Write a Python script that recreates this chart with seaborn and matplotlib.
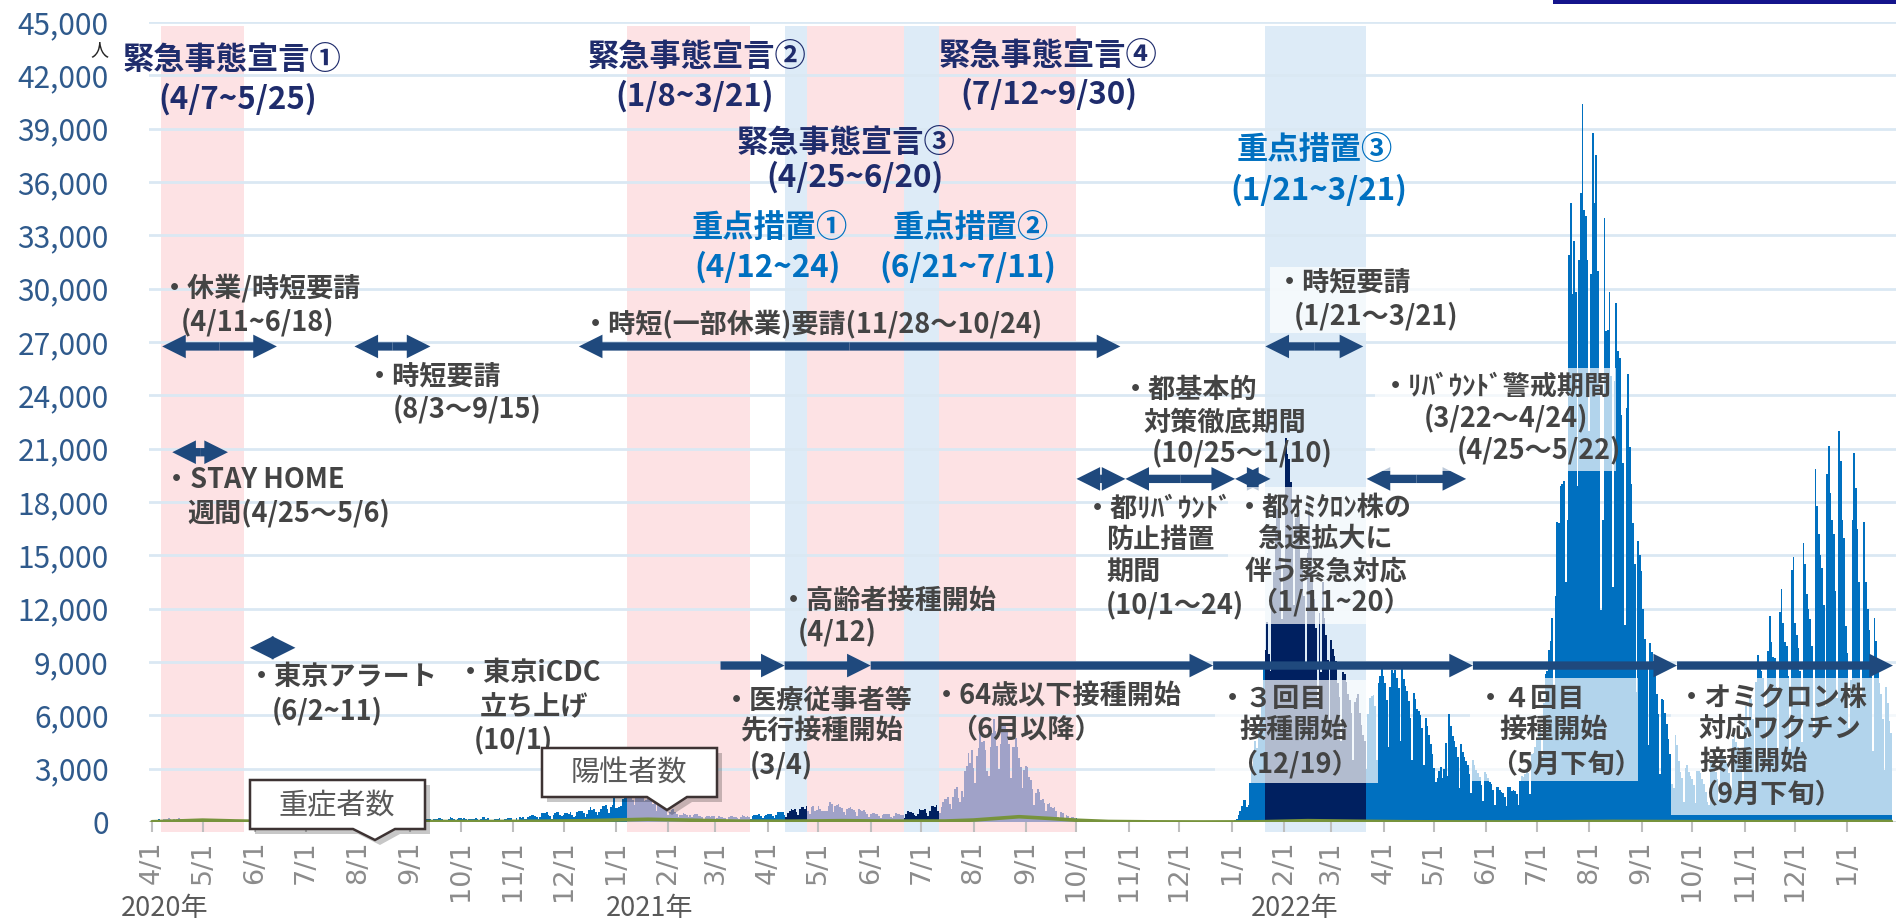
import matplotlib
matplotlib.use('Agg')
import matplotlib.pyplot as plt
from matplotlib.patches import Polygon, Rectangle, FancyArrowPatch, ArrowStyle
import numpy as np
import pandas as pd
import seaborn as sns

# 東京都 新規陽性者数（日別）: 月ごとのリスト
cases_2020 = [
    [66, 97, 89, 116, 143, 83, 79, 144, 181, 189, 197, 166, 91, 161, 127, 149, 206, 181, 107, 102,
     123, 132, 134, 161, 103, 72, 39, 112, 47, 46],
    [165, 160, 91, 87, 58, 38, 23, 39, 36, 22, 15, 28, 10, 30, 9, 14, 5, 10, 5, 5,
     11, 3, 2, 14, 8, 21, 11, 15, 22, 14, 5],
    [13, 34, 12, 28, 20, 26, 14, 13, 12, 18, 22, 25, 24, 47, 48, 27, 16, 41, 35, 39,
     35, 29, 31, 55, 48, 54, 57, 60, 58, 54],
    [67, 107, 124, 131, 111, 102, 106, 75, 224, 243, 206, 206, 119, 143, 165, 286, 293, 290, 188, 168,
     237, 238, 366, 260, 295, 239, 131, 266, 250, 367, 463],
    [472, 292, 258, 309, 263, 360, 462, 429, 331, 197, 188, 222, 206, 389, 385, 260, 161, 207, 186, 339,
     258, 256, 212, 95, 182, 236, 250, 226, 148, 201, 100],
    [170, 141, 211, 226, 181, 116, 77, 170, 149, 276, 187, 181, 146, 80, 163, 163, 173, 220, 218, 166,
     98, 88, 59, 195, 270, 214, 148, 78, 194, 218],
    [235, 196, 207, 143, 59, 178, 170, 170, 187, 249, 146, 78, 166, 284, 284, 185, 235, 132, 78, 139,
     150, 185, 186, 215, 124, 102, 158, 171, 221, 215, 209],
    [116, 87, 209, 122, 269, 242, 294, 189, 157, 293, 317, 393, 374, 352, 255, 180, 298, 493, 534, 522,
     539, 391, 314, 186, 401, 481, 570, 561, 418, 311],
    [372, 500, 533, 449, 584, 399, 299, 352, 572, 602, 595, 621, 480, 305, 460, 678, 822, 664, 736, 556,
     392, 563, 748, 888, 884, 949, 708, 481, 856, 944, 1337],
]
cases_2021 = [
    [783, 814, 816, 884, 1278, 1591, 2447, 2392, 2268, 1494, 1219, 970, 1433, 1502, 2001, 1809, 1592, 1204, 1240, 1274,
     1471, 1175, 986, 1056, 618, 1026, 1064, 1065, 868, 769, 633],
    [393, 556, 676, 734, 577, 429, 276, 412, 412, 491, 434, 369, 307, 371, 266, 378, 445, 445, 353, 327,
     272, 178, 275, 340, 340, 270, 337, 329],
    [121, 232, 316, 279, 301, 237, 237, 116, 290, 340, 335, 304, 289, 239, 175, 300, 409, 323, 303, 342,
     256, 187, 337, 420, 394, 376, 430, 313, 234, 364, 414],
    [475, 446, 440, 355, 249, 399, 555, 545, 537, 570, 421, 306, 510, 591, 729, 667, 759, 543, 405, 711,
     843, 861, 759, 876, 635, 425, 828, 925, 629, 698],
    [879, 708, 609, 621, 591, 591, 907, 1121, 1032, 573, 925, 969, 1010, 854, 772, 543, 419, 732, 766, 843,
     711, 654, 535, 340, 743, 684, 614, 684, 539, 473, 258],
    [471, 487, 508, 472, 436, 351, 235, 369, 440, 439, 435, 467, 304, 209, 337, 501, 452, 453, 388, 376,
     236, 435, 619, 570, 562, 534, 386, 317, 476, 714],
    [673, 660, 716, 518, 342, 593, 920, 896, 822, 950, 614, 502, 830, 1149, 1308, 1271, 1410, 1008, 727, 1387,
     1832, 1979, 1359, 1128, 1763, 1429, 2848, 3177, 3865, 3300, 4058],
    [3058, 2195, 3709, 4166, 5042, 4515, 4566, 4066, 2884, 2612, 4200, 4989, 5773, 5094, 4295, 2962, 4377, 5386, 5534, 5405,
     5074, 4392, 2447, 4220, 4228, 4704, 4227, 3581, 3081, 1915, 2909],
    [3168, 3099, 2539, 2362, 1853, 968, 1629, 1834, 1675, 1242, 1273, 1067, 611, 1004, 1052, 831, 782, 862, 616, 302,
     253, 537, 531, 235, 382, 331, 154, 266, 267, 218],
    [200, 196, 161, 87, 149, 143, 138, 82, 66, 60, 49, 41, 77, 62, 72, 66, 40, 29, 36, 41,
     36, 26, 32, 19, 17, 36, 29, 21, 18, 22, 9],
    [9, 18, 29, 21, 21, 24, 13, 9, 20, 24, 22, 21, 24, 11, 12, 19, 21, 24, 23, 16,
     21, 8, 16, 22, 17, 31, 27, 20, 12, 9],
    [15, 16, 15, 19, 17, 8, 16, 21, 22, 13, 20, 14, 9, 21, 21, 23, 30, 25, 26, 11,
     36, 37, 41, 44, 48, 33, 40, 60, 76, 64, 78],
]
cases_2022 = [
    [79, 84, 103, 151, 390, 641, 922, 1224, 1223, 871, 962, 2198, 3124, 4051, 4561, 4172, 5185, 5526, 7377, 8638,
     9699, 11227, 9468, 8503, 12813, 14086, 16538, 17631, 17433, 15895, 11443],
    [14445, 21576, 20679, 20401, 19126, 17526, 12219, 17113, 18287, 17526, 14715, 14528, 12695, 8837, 15151, 17864, 15525, 14111, 12538, 10910,
     6965, 11759, 8424, 13518, 11449, 10497, 9126, 5582],
    [10245, 9735, 9315, 9072, 7846, 7040, 4568, 8424, 8317, 7876, 7225, 6850, 6142, 3471, 6747, 6951, 7179, 6110, 5451, 4920,
     4572, 2971, 6099, 6982, 7080, 7159, 6520, 3511, 7845, 8226, 8777],
    [8227, 7795, 6889, 4225, 7605, 8569, 8356, 8526, 8112, 7540, 4541, 8678, 8060, 7674, 7350, 6814, 5835, 3500, 7276, 6906,
     6357, 6240, 6004, 5282, 3219, 5844, 5396, 4905, 4384, 3845],
    [3055, 2277, 2479, 2875, 3067, 2451, 2964, 4463, 2576, 6087, 5398, 4828, 4536, 4240, 3649, 1922, 4398, 3929, 3653, 3444,
     3189, 2701, 1605, 3488, 3193, 2928, 2755, 2547, 2066, 1157, 2840],
    [2715, 2488, 2249, 2131, 1815, 934, 1980, 1963, 1774, 1696, 1628, 1427, 896, 1956, 1977, 1769, 1797, 1729, 1573, 960,
     2306, 2570, 2527, 2681, 2819, 2730, 1588, 3803, 3867, 4212],
    [4600, 5100, 5200, 3700, 6700, 8300, 8500, 9700, 10200, 11500, 7000, 12700, 16900, 16800, 18900, 19000, 19200, 13500, 17000, 31900,
     34800, 29700, 32700, 29800, 18900, 31600, 35400, 40400, 34400, 34100, 31600],
    [22000, 30800, 38750, 34800, 37500, 31000, 24000, 11900, 17000, 34000, 27600, 27700, 29800, 25100, 13200, 24800, 29200, 26500, 26100, 22900,
     20200, 11100, 23300, 25200, 21100, 19000, 16800, 14500, 7300, 15800, 15000],
    [14130, 11954, 10281, 8856, 4348, 10085, 9588, 9057, 8215, 7197, 6064, 2719, 6904, 6887, 6119, 5487, 4658, 3851, 2165, 1914,
     4905, 4307, 3417, 2813, 2475, 1099, 3012, 3193, 2810, 2578],
    [2425, 2097, 1046, 2885, 2894, 2769, 2432, 2160, 1678, 1122, 968, 3496, 3416, 3093, 2803, 2401, 1180, 3776, 3942, 3645,
     3394, 3288, 2742, 1435, 4681, 4881, 4493, 4197, 4026, 3347, 1837],
    [5900, 6500, 4700, 7000, 6900, 5800, 2900, 7900, 9400, 8900, 8500, 8100, 6500, 3600, 9600, 11600, 10100, 9300, 9200, 7600,
     3700, 11800, 13100, 11200, 10100, 9900, 8200, 4100, 14200, 14900],
    [11200, 10500, 9800, 8500, 4500, 15700, 14500, 12800, 12000, 11400, 9900, 5100, 19850, 17800, 16200, 15000, 14300, 12200, 6500, 19600,
     21150, 18500, 17000, 16200, 13000, 7000, 22000, 20300, 17000, 16000, 11000],
]
cases_2023 = [
    [9500, 5300, 8000, 17000, 20750, 18800, 16500, 13500, 7000, 9000, 16900, 13500, 12000, 10800, 8500, 4000, 11500, 10200, 8900, 7800,
     7200, 5800, 2900, 7600, 6700, 5700, 5000],
]

# 重症者数
severe_dates = ['2020-04-01', '2020-04-20', '2020-05-01', '2020-05-20', '2020-06-15', '2020-07-15', '2020-08-15',
                '2020-09-15', '2020-10-15', '2020-11-15', '2020-12-15', '2021-01-20', '2021-02-15', '2021-03-15',
                '2021-04-15', '2021-05-15', '2021-06-15', '2021-07-15', '2021-08-01', '2021-08-28', '2021-09-15',
                '2021-10-01', '2021-10-20', '2021-11-15', '2021-12-15', '2022-01-15', '2022-02-15', '2022-03-15',
                '2022-04-15', '2022-05-15', '2022-06-15', '2022-07-15', '2022-08-15', '2022-09-15', '2022-10-15',
                '2022-11-15', '2022-12-15', '2023-01-15', '2023-01-27']
severe_values = [15, 70, 105, 60, 20, 10, 30, 28, 25, 40, 75, 155, 100, 45, 45, 75, 50, 55, 110, 297, 200,
                 100, 30, 8, 2, 8, 75, 45, 15, 6, 4, 15, 35, 25, 12, 18, 30, 40, 35]

# 緊急事態宣言 / 重点措置 期間
decl_periods = [('2020-04-07', '2020-05-25'), ('2021-01-08', '2021-03-21'),
                ('2021-04-25', '2021-06-20'), ('2021-07-12', '2021-09-30')]
prio_periods = [('2021-04-12', '2021-04-24'), ('2021-06-21', '2021-07-11'), ('2022-01-21', '2022-03-21')]

# 要請等の矢印（開始, 終了）
upper_arrows = [('2020-04-07', '2020-06-14'), ('2020-07-30', '2020-09-13'), ('2020-12-10', '2021-10-27'),
                ('2022-01-21', '2022-03-20')]
stay_home = ('2020-04-13', '2020-05-16')
tokyo_alert = ('2020-05-29', '2020-06-25')
lower_arrows = [('2021-10-01', '2021-10-30'), ('2021-10-30', '2022-01-03'), ('2022-01-03', '2022-01-24'),
                ('2022-03-22', '2022-05-20')]
vaccine_marks = ['2021-03-04', '2021-04-11', '2021-06-01', '2021-12-21', '2022-05-24', '2022-09-22', '2023-01-28']

sns.set_theme(style='white')
plt.rcParams['font.family'] = ['Noto Sans CJK JP', 'DejaVu Sans']
plt.rcParams['axes.unicode_minus'] = False

W, H = 1896, 923
fig = plt.figure(figsize=(W / 100, H / 100), dpi=100)
ax = fig.add_axes([149 / W, 1 - 822 / H, 1 - 149 / W, (822 - 22) / H])

START = pd.Timestamp('2020-04-01')


def day(s):
    return (pd.Timestamp(s) - START).days


rows = []
for first, months in [('2020-04-01', cases_2020), ('2021-01-01', cases_2021),
                      ('2022-01-01', cases_2022), ('2023-01-01', cases_2023)]:
    for k, vals in enumerate(months):
        ms = pd.Timestamp(first) + pd.DateOffset(months=k)
        for i, v in enumerate(vals[:ms.days_in_month]):
            rows.append((day(ms) + i, v))
df = pd.DataFrame(rows, columns=['day', 'cases'])


def period(d):
    for a, b in decl_periods:
        if day(a) <= d <= day(b):
            return 'decl'
    for a, b in prio_periods:
        if day(a) <= d <= day(b):
            return 'prio'
    return 'base'


df['period'] = df['day'].map(period)
pal = {'base': '#0070C0', 'decl': '#A0A2C8', 'prio': '#002060'}

# 背景の期間帯
for a, b in decl_periods:
    ax.axvspan(day(a) - 0.5, day(b) + 0.5, ymin=-0.012, ymax=0.995, color='#FDE2E4', lw=0, zorder=0, clip_on=False)
for a, b in prio_periods:
    ax.axvspan(day(a) - 0.5, day(b) + 0.5, ymin=-0.012, ymax=0.995, color='#DDEBF7', lw=0, zorder=0, clip_on=False)

sns.barplot(data=df, x='day', y='cases', hue='period', palette=pal, native_scale=True, width=1.0,
            dodge=False, errorbar=None, saturation=1, legend=False, linewidth=0, zorder=3, ax=ax)
sns.lineplot(x=[day(d) for d in severe_dates], y=severe_values, color='#77933C', lw=2.6, zorder=4, ax=ax)

ax.set_xlim(-1.8, 1033.8)
ax.set_ylim(0, 45000)
ax.set_xlabel('')
ax.set_ylabel('')
for s in ax.spines.values():
    s.set_visible(False)
ax.axhline(0, color='#D0D0D0', lw=1.2, zorder=2)

yt = np.arange(0, 45001, 3000)
ax.set_yticks(yt)
ax.set_yticklabels([f'{v:,}' for v in yt], fontsize=21.5, color='#2F5A8C')
ax.yaxis.grid(True, color='#DAE8F3', lw=2.0)
ax.xaxis.grid(False)
ax.set_axisbelow(True)
ax.tick_params(axis='y', length=0, pad=29)

months = pd.date_range('2020-04-01', '2023-01-01', freq='MS')
ax.set_xticks([day(m) for m in months])
ax.set_xticklabels([f'{m.month}/1' for m in months], rotation=90, fontsize=19.5, color='#8C8C8C',
                   fontfamily='DejaVu Sans', va='top', ha='center')
ax.tick_params(axis='x', bottom=True, length=7, width=1.5, color='#BFBFBF', pad=6)

ARROW = ArrowStyle('simple', head_length=17, head_width=17, tail_width=6)
ACOL = '#1F497D'


def seg_arrow(x0, x1, yv):
    ax.add_patch(FancyArrowPatch((x0, yv), (x1, yv), arrowstyle=ARROW, mutation_scale=1, color=ACOL,
                                 lw=0, shrinkA=0, shrinkB=0, zorder=5, clip_on=False))


def double_arrow(span, yv):
    x0, x1 = day(span[0]), day(span[1])
    mid = (x0 + x1) / 2
    seg_arrow(mid, x0, yv)
    seg_arrow(mid, x1, yv)


for sp in upper_arrows:
    double_arrow(sp, 26750)
double_arrow(stay_home, 20800)
double_arrow(tokyo_alert, 9800)
for sp in lower_arrows:
    double_arrow(sp, 19300)
vd = [day(d) for d in vaccine_marks]
for a, b in zip(vd[:-1], vd[1:]):
    seg_arrow(a, b, 8800)


def F(x, y):
    return (x / W, 1 - y / H)


def ftext(x, y, s, size=19.5, color='#444444', weight='bold', ha='left', z=8):
    ax.text(*F(x, y), s, transform=fig.transFigure, fontsize=size, color=color, fontweight=weight,
            ha=ha, va='center', zorder=z)


def wbox(x0, y0, x1, y1, alpha=0.7):
    ax.add_patch(Rectangle(F(x0, y1), (x1 - x0) / W, (y1 - y0) / H, transform=fig.transFigure,
                           facecolor='white', alpha=alpha, lw=0, zorder=6, clip_on=False))


# 半透明の白い枠
wbox(1270, 267, 1470, 333)
wbox(1228, 487, 1370, 624)
wbox(1375, 368, 1616, 471)
wbox(1215, 680, 1378, 783)
wbox(1470, 678, 1638, 781)
wbox(1671, 678, 1896, 815)

NAVY = '#1F2C6C'
BLUE = '#0070C0'
ftext(232, 60, '緊急事態宣言①', 22.5, NAVY, 'bold', 'center')
ftext(238, 99, '(4/7~5/25)', 22.5, NAVY, 'bold', 'center')
ftext(697, 57, '緊急事態宣言②', 22.5, NAVY, 'bold', 'center')
ftext(695, 96, '(1/8~3/21)', 22.5, NAVY, 'bold', 'center')
ftext(846, 143, '緊急事態宣言③', 22.5, NAVY, 'bold', 'center')
ftext(855, 177, '(4/25~6/20)', 22.5, NAVY, 'bold', 'center')
ftext(1048, 56, '緊急事態宣言④', 22.5, NAVY, 'bold', 'center')
ftext(1049, 94, '(7/12~9/30)', 22.5, NAVY, 'bold', 'center')
ftext(770, 228, '重点措置①', 22.5, BLUE, 'bold', 'center')
ftext(768, 267, '(4/12~24)', 22.5, BLUE, 'bold', 'center')
ftext(971, 228, '重点措置②', 22.5, BLUE, 'bold', 'center')
ftext(968, 267, '(6/21~7/11)', 22.5, BLUE, 'bold', 'center')
ftext(1315, 150, '重点措置③', 22.5, BLUE, 'bold', 'center')
ftext(1319, 190, '(1/21~3/21)', 22.5, BLUE, 'bold', 'center')

ftext(161, 288, '・休業/時短要請')
ftext(181, 322, '(4/11~6/18)')
ftext(366, 377, '・時短要請')
ftext(393, 409, '(8/3〜9/15)')
ftext(582, 324, '・時短(一部休業)要請(11/28〜10/24)')
ftext(163, 480, '・STAY HOME')
ftext(187, 513, '週間(4/25〜5/6)')
ftext(248, 677, '・東京アラート')
ftext(272, 711, '(6/2~11)')
ftext(457, 673, '・東京iCDC')
ftext(480, 707, '立ち上げ')
ftext(474, 740, '(10/1)')
ftext(780, 601, '・高齢者接種開始')
ftext(798, 632, '(4/12)')
ftext(723, 701, '・医療従事者等')
ftext(741, 731, '先行接種開始')
ftext(750, 765, '(3/4)')
ftext(933, 696, '・64歳以下接種開始')
ftext(950, 729, '（6月以降）')
ftext(1122, 390, '・都基本的')
ftext(1144, 423, '対策徹底期間')
ftext(1152, 453, '(10/25〜1/10)')
ftext(1084, 509, '・都ﾘﾊﾞｳﾝﾄﾞ')
ftext(1106, 540, '防止措置')
ftext(1106, 572, '期間')
ftext(1106, 605, '(10/1〜24)')
ftext(1236, 508, '・都ｵﾐｸﾛﾝ株の')
ftext(1257, 539, '急速拡大に')
ftext(1245, 572, '伴う緊急対応')
ftext(1250, 602, '（1/11~20）')
ftext(1276, 283, '・時短要請')
ftext(1294, 316, '(1/21〜3/21)')
ftext(1382, 387, '・ﾘﾊﾞｳﾝﾄﾞ警戒期間')
ftext(1424, 418, '(3/22〜4/24)')
ftext(1457, 450, '(4/25〜5/22)')
ftext(1219, 699, '・３回目')
ftext(1239, 730, '接種開始')
ftext(1230, 764, '（12/19）')
ftext(1477, 699, '・４回目')
ftext(1499, 730, '接種開始')
ftext(1490, 764, '（5月下旬）')
ftext(1678, 698, '・オミクロン株')
ftext(1699, 729, '対応ワクチン')
ftext(1699, 762, '接種開始')
ftext(1690, 794, '（9月下旬）')


# 吹き出し
def callout(pts, label, tx, ty):
    sh = [F(x + 5, y + 5) for x, y in pts]
    ax.add_patch(Polygon(sh, closed=True, transform=fig.transFigure, facecolor='black', alpha=0.22,
                         lw=0, zorder=9, clip_on=False))
    ax.add_patch(Polygon([F(x, y) for x, y in pts], closed=True, transform=fig.transFigure,
                         facecolor='white', edgecolor='#3D3333', lw=1.8, zorder=10, clip_on=False))
    ax.text(*F(tx, ty), label, transform=fig.transFigure, fontsize=21, color='#595959',
            ha='center', va='center', zorder=11)


callout([(250, 780), (425, 780), (425, 829), (395, 829), (375, 840), (353, 829), (250, 829)], '重症者数', 337, 806)
callout([(542, 748), (717, 748), (717, 797), (687, 797), (667, 810), (647, 797), (542, 797)], '陽性者数', 629, 774)

fig.text(*F(99, 50), '人', fontsize=13, color='#262626', ha='center', va='center')
for x, s in [(165, '2020年'), (650, '2021年'), (1295, '2022年')]:
    fig.text(*F(x, 908), s, fontsize=19.5, color='#595959', ha='center', va='center')
fig.patches.append(Rectangle(F(1553, 4), (1896 - 1553) / W, 4 / H, transform=fig.transFigure,
                             facecolor='#14148C', lw=0))

fig.savefig('out.png', dpi=100)
